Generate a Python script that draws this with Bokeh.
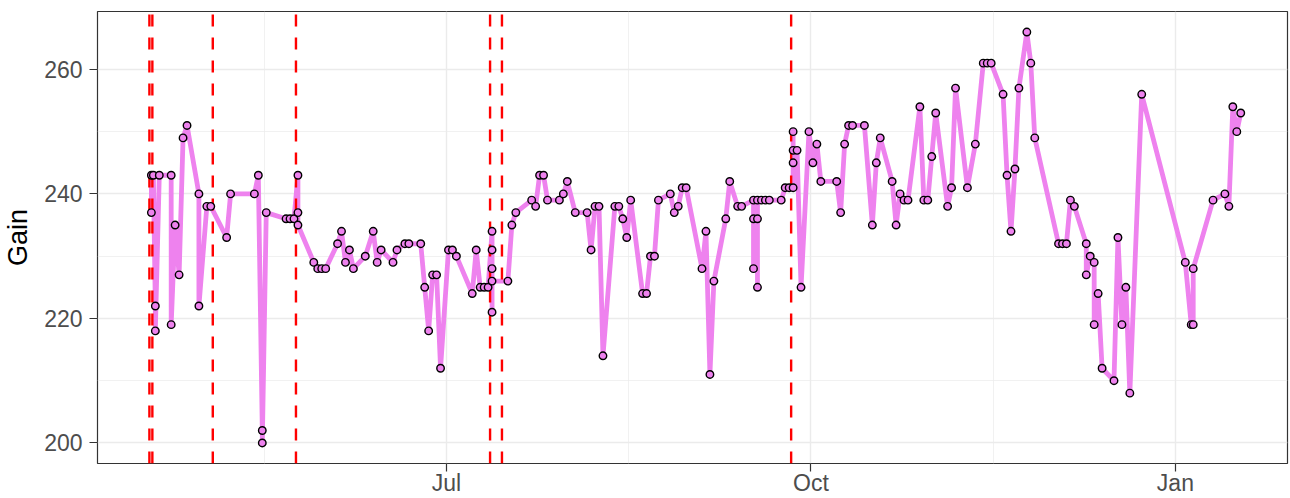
import pandas as pd
from bokeh.plotting import figure
from bokeh.models import Range1d, FixedTicker, ColumnDataSource
from bokeh.embed import file_html
from bokeh.resources import INLINE

# ---- data -------------------------------------------------------------
dates = [
    "2017-04-17 12:00", "2017-04-17 12:00", "2017-04-18 00:00", "2017-04-18 12:00", "2017-04-18 12:00",
    "2017-04-19 12:00", "2017-04-22 12:00", "2017-04-22 12:00", "2017-04-23 12:00", "2017-04-24 12:00",
    "2017-04-25 12:00", "2017-04-26 12:00", "2017-04-29 12:00", "2017-04-29 12:00", "2017-05-01 12:00",
    "2017-05-02 12:00", "2017-05-06 12:00", "2017-05-07 12:00", "2017-05-13 12:00", "2017-05-14 12:00",
    "2017-05-15 12:00", "2017-05-15 12:00", "2017-05-16 12:00", "2017-05-21 12:00", "2017-05-22 12:00",
    "2017-05-23 12:00", "2017-05-24 12:00", "2017-05-24 12:00", "2017-05-24 12:00", "2017-05-28 12:00",
    "2017-05-29 12:00", "2017-05-30 12:00", "2017-05-31 12:00", "2017-06-03 12:00", "2017-06-04 12:00",
    "2017-06-05 12:00", "2017-06-06 12:00", "2017-06-07 12:00", "2017-06-10 12:00", "2017-06-12 12:00",
    "2017-06-13 12:00", "2017-06-14 12:00", "2017-06-17 12:00", "2017-06-18 12:00", "2017-06-20 12:00",
    "2017-06-21 12:00", "2017-06-24 12:00", "2017-06-25 12:00", "2017-06-26 12:00", "2017-06-27 12:00",
    "2017-06-28 12:00", "2017-06-29 12:00", "2017-07-01 12:00", "2017-07-02 12:00", "2017-07-03 12:00",
    "2017-07-07 12:00", "2017-07-08 12:00", "2017-07-09 12:00", "2017-07-10 12:00", "2017-07-11 12:00",
    "2017-07-12 12:00", "2017-07-12 12:00", "2017-07-12 12:00", "2017-07-12 12:00", "2017-07-12 12:00",
    "2017-07-16 12:00", "2017-07-17 12:00", "2017-07-18 12:00", "2017-07-22 12:00", "2017-07-23 12:00",
    "2017-07-24 12:00", "2017-07-25 12:00", "2017-07-26 12:00", "2017-07-29 12:00", "2017-07-30 12:00",
    "2017-07-31 12:00", "2017-08-02 12:00", "2017-08-05 12:00", "2017-08-06 12:00", "2017-08-07 12:00",
    "2017-08-08 12:00", "2017-08-09 12:00", "2017-08-12 12:00", "2017-08-13 12:00", "2017-08-14 12:00",
    "2017-08-15 12:00", "2017-08-16 12:00", "2017-08-19 12:00", "2017-08-20 12:00", "2017-08-21 12:00",
    "2017-08-22 12:00", "2017-08-23 12:00", "2017-08-26 12:00", "2017-08-27 12:00", "2017-08-28 12:00",
    "2017-08-29 12:00", "2017-08-30 12:00", "2017-09-03 12:00", "2017-09-04 12:00", "2017-09-05 12:00",
    "2017-09-06 12:00", "2017-09-09 12:00", "2017-09-10 12:00", "2017-09-12 12:00", "2017-09-13 12:00",
    "2017-09-16 12:00", "2017-09-16 12:00", "2017-09-16 12:00", "2017-09-17 12:00", "2017-09-17 12:00",
    "2017-09-17 12:00", "2017-09-18 12:00", "2017-09-19 12:00", "2017-09-20 12:00", "2017-09-23 12:00",
    "2017-09-24 12:00", "2017-09-25 12:00", "2017-09-26 12:00", "2017-09-26 12:00", "2017-09-26 12:00",
    "2017-09-26 12:00", "2017-09-27 12:00", "2017-09-28 12:00", "2017-09-30 12:00", "2017-10-01 12:00",
    "2017-10-02 12:00", "2017-10-03 12:00", "2017-10-07 12:00", "2017-10-08 12:00", "2017-10-09 12:00",
    "2017-10-10 12:00", "2017-10-11 12:00", "2017-10-14 12:00", "2017-10-16 12:00", "2017-10-17 12:00",
    "2017-10-18 12:00", "2017-10-21 12:00", "2017-10-22 12:00", "2017-10-23 12:00", "2017-10-24 12:00",
    "2017-10-25 12:00", "2017-10-28 12:00", "2017-10-29 12:00", "2017-10-30 12:00", "2017-10-31 12:00",
    "2017-11-01 12:00", "2017-11-04 12:00", "2017-11-05 12:00", "2017-11-06 12:00", "2017-11-09 12:00",
    "2017-11-11 12:00", "2017-11-13 12:00", "2017-11-14 12:00", "2017-11-15 12:00", "2017-11-18 12:00",
    "2017-11-19 12:00", "2017-11-20 12:00", "2017-11-21 12:00", "2017-11-22 12:00", "2017-11-24 12:00",
    "2017-11-25 12:00", "2017-11-26 12:00", "2017-12-02 12:00", "2017-12-03 12:00", "2017-12-04 12:00",
    "2017-12-05 12:00", "2017-12-06 12:00", "2017-12-09 12:00", "2017-12-09 12:00", "2017-12-10 12:00",
    "2017-12-11 12:00", "2017-12-11 12:00", "2017-12-12 12:00", "2017-12-13 12:00", "2017-12-16 12:00",
    "2017-12-17 12:00", "2017-12-18 12:00", "2017-12-19 12:00", "2017-12-20 12:00", "2017-12-23 12:00",
    "2018-01-03 12:00", "2018-01-05 00:00", "2018-01-05 12:00", "2018-01-05 12:00", "2018-01-10 12:00",
    "2018-01-13 12:00", "2018-01-14 12:00", "2018-01-15 12:00", "2018-01-16 12:00", "2018-01-17 12:00",
]
gain = [
    243, 237, 243, 222, 218,
    243, 243, 219, 235, 227,
    249, 251, 240, 222, 238,
    238, 233, 240, 240, 243,
    202, 200, 237, 236, 236,
    236, 243, 237, 235, 229,
    228, 228, 228, 232, 234,
    229, 231, 228, 230, 234,
    229, 231, 229, 231, 232,
    232, 232, 225, 218, 227,
    227, 212, 231, 231, 230,
    224, 231, 225, 225, 225,
    234, 231, 228, 221, 226,
    226, 235, 237, 239, 238,
    243, 243, 239, 239, 240,
    242, 237, 237, 231, 238,
    238, 214, 238, 238, 236,
    233, 239, 224, 224, 230,
    230, 239, 240, 237, 238,
    241, 241, 228, 234, 211,
    226, 236, 242, 238, 238,
    239, 236, 228, 236, 225,
    239, 239, 239, 239, 239,
    241, 241, 241, 250, 247,
    245, 247, 225, 250, 245,
    248, 242, 242, 237, 248,
    251, 251, 251, 235, 245,
    249, 242, 235, 240, 239,
    239, 254, 239, 239, 246,
    253, 238, 241, 257, 241,
    248, 261, 261, 261, 256,
    243, 234, 244, 257, 266,
    261, 249, 232, 232, 232,
    239, 238, 232, 227, 230,
    229, 219, 224, 212, 210,
    233, 219, 225, 208, 256,
    229, 219, 219, 228, 239,
    240, 238, 254, 250, 253,
]
event_dates = ["2017-04-17 00:00", "2017-04-17 18:00", "2017-05-03 00:00", "2017-05-24 00:00",
               "2017-07-12 00:00", "2017-07-15 00:00", "2017-09-26 00:00"]
x_ticks = ["2017-07-01", "2017-10-01", "2018-01-01"]
x_tick_labels = ["Jul", "Oct", "Jan"]
y_ticks = [200, 220, 240, 260]
x_limits_days_from_first_tick = (-88.1, 212.3)

# ---- figure -----------------------------------------------------------
t = pd.to_datetime(pd.Series(dates))
ev = pd.to_datetime(pd.Series(event_dates))
xt = pd.to_datetime(pd.Series(x_ticks))

ms = lambda ts: ts.value / 1e6
day = 86400000.0
jul1 = ms(xt.iloc[0])

ymin, ymax = min(gain), max(gain)
yspan = ymax - ymin
p = figure(width=1290, height=498, x_axis_type="datetime", output_backend="svg",
           toolbar_location=None, min_border_left=97, min_border_top=11,
           min_border_right=3, min_border_bottom=35,
           x_range=Range1d(jul1 + x_limits_days_from_first_tick[0] * day,
                           jul1 + x_limits_days_from_first_tick[1] * day),
           y_range=Range1d(ymin - 0.05 * yspan, ymax + 0.05 * yspan))
p.background_fill_color = "white"
p.border_fill_color = "white"
p.outline_line_color = "#333333"
p.outline_line_width = 1.2

major_x = [ms(v) for v in xt]
minor_x = [major_x[0] - (major_x[1] - major_x[0]) / 2] + \
          [(a + b) / 2 for a, b in zip(major_x[:-1], major_x[1:])]
p.xaxis.ticker = FixedTicker(ticks=major_x, minor_ticks=minor_x)
p.xaxis.major_label_overrides = {v: lab for v, lab in zip(major_x, x_tick_labels)}
p.yaxis.ticker = FixedTicker(ticks=y_ticks,
                             minor_ticks=[(a + b) / 2 for a, b in zip(y_ticks[:-1], y_ticks[1:])])

for ax in (p.xaxis[0], p.yaxis[0]):
    ax.axis_line_color = None
    ax.major_tick_line_color = "#333333"
    ax.major_tick_line_width = 1.2
    ax.major_tick_out = 8
    ax.major_tick_in = 0
    ax.minor_tick_out = 0
    ax.minor_tick_in = 0
    ax.major_label_text_font = "Liberation Sans"
    ax.major_label_text_font_size = "23px"
    ax.major_label_text_color = "#4D4D4D"
p.xaxis.major_label_standoff = -2
p.yaxis.major_label_standoff = 7
p.yaxis.axis_label = "Gain"
p.yaxis.axis_label_text_font = "Liberation Sans"
p.yaxis.axis_label_text_font_size = "27px"
p.yaxis.axis_label_text_font_style = "normal"
p.yaxis.axis_label_text_color = "black"
p.yaxis.axis_label_standoff = 8

for g in (p.xgrid[0], p.ygrid[0]):
    g.grid_line_color = "#EBEBEB"
    g.grid_line_width = 1.4
    g.minor_grid_line_color = "#EBEBEB"
    g.minor_grid_line_width = 0.7

src = ColumnDataSource(dict(x=t, y=gain))
p.line("x", "y", source=src, line_color="violet", line_width=4.8)

y0 = p.y_range.start
y1 = p.y_range.end
evsrc = ColumnDataSource(dict(x=ev, y0=[y0] * len(ev), y1=[y1] * len(ev)))
p.segment(x0="x", y0="y0", x1="x", y1="y1", source=evsrc, line_color="red",
          line_width=2.4, line_dash="12 11")

p.scatter("x", "y", source=src, size=7.5, fill_color="violet", line_color="black", line_width=1.4)

open("out.html", "w").write(file_html(p, INLINE))
